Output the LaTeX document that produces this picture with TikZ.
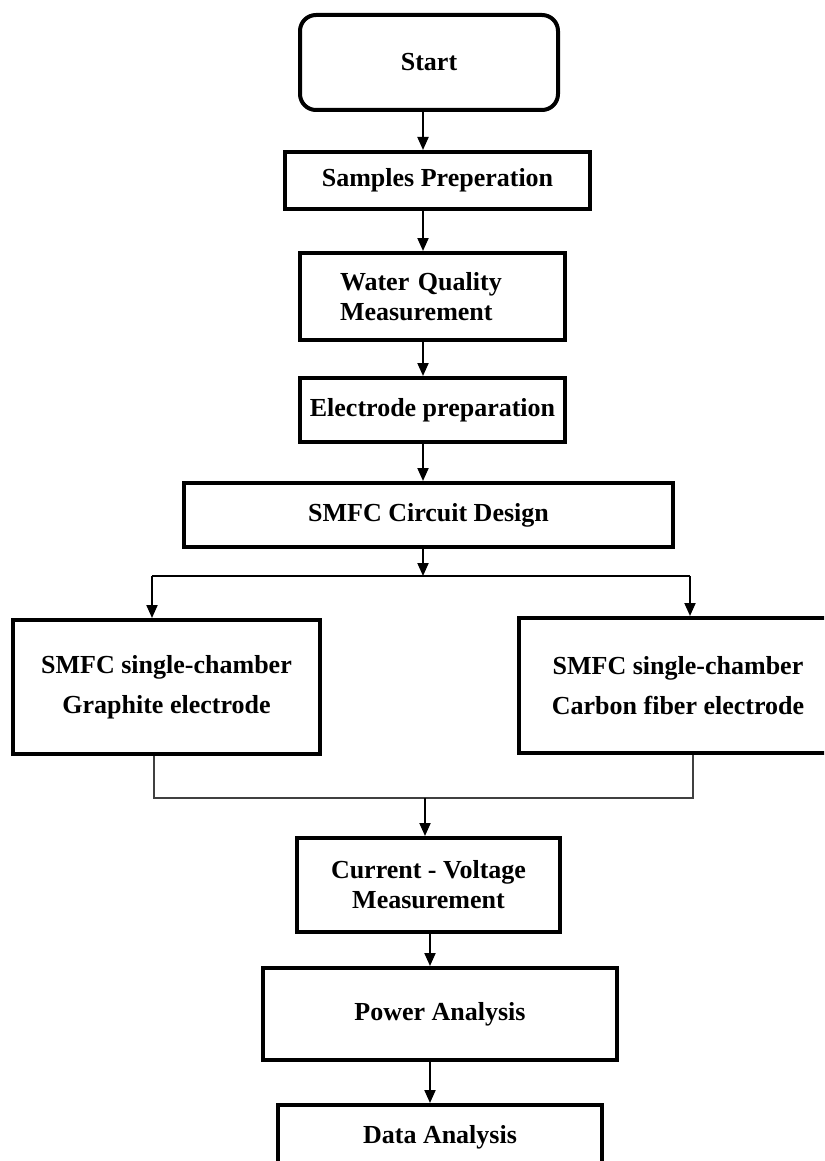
\documentclass[tikz,border=0pt]{standalone}
\usepackage{fontspec}
\setmainfont{Liberation Serif}
\usetikzlibrary{arrows.meta}

\begin{document}
\begin{tikzpicture}[x=1pt,y=-1pt,>={Triangle[length=13pt,width=11pt]},process/.style={draw,line width=4pt,inner sep=0pt,align=center,font=\bfseries\fontsize{26}{30}\selectfont},terminal/.style={process,rounded corners=16pt},flow/.style={->,line width=2pt},joint/.style={line width=1.6pt,draw=black!75}]
\useasboundingbox (0,0) rectangle (824,1161);
\clip (0,0) rectangle (824,1161);
\coordinate (spine) at (423,0);
\coordinate (spineb) at (430,0);
\node[terminal,minimum width=258pt,minimum height=95pt] (start) at (429,62.5) {Start};
\node[process,minimum width=305pt,minimum height=57pt] (samples) at (437.5,180.5) {Samples Preperation};
\node[process,minimum height=87pt,text width=185pt,align=left,inner xsep=40pt] (water) at (432.5,296.5) {Water Quality\\Measurement};
\node[process,minimum width=265pt,minimum height=64pt] (electrode) at (432.5,410) {Electrode preparation};
\node[process,minimum width=489pt,minimum height=64pt] (circuit) at (428.5,515) {SMFC Circuit Design};
\node[process,minimum width=307pt,minimum height=134pt,font=\bfseries\fontsize{26}{40}\selectfont] (graphite) at (166.5,687) {SMFC single-chamber\\Graphite electrode};
\node[process,minimum width=318pt,minimum height=135pt,font=\bfseries\fontsize{26}{40}\selectfont] (carbon) at (678,685.5) {SMFC single-chamber\\Carbon fiber electrode};
\node[process,minimum width=263pt,minimum height=94pt] (cv) at (428.5,885) {Current - Voltage\\Measurement};
\node[process,minimum width=354pt,minimum height=92pt] (power) at (440,1014) {Power Analysis};
\node[process,minimum width=324pt,minimum height=64pt] (data) at (440,1137) {Data Analysis};
% main line
\draw[flow] (start.south -| spine) -- (samples.north -| spine);
\draw[flow] (samples.south -| spine) -- (water.north -| spine);
\draw[flow] (water.south -| spine) -- (electrode.north -| spine);
\draw[flow] (electrode.south -| spine) -- (circuit.north -| spine);
% split into the two cells
\coordinate (split) at (423,576);
\coordinate (splitL) at (152,576);
\coordinate (splitR) at (690,576);
\draw[flow] (circuit.south -| spine) -- (split);
\draw[line width=2pt] (splitL) -- (splitR);
\draw[flow] (splitL) -- (graphite.north -| splitL);
\draw[flow] (splitR) -- (carbon.north -| splitR);
% join again
\coordinate (merge) at (425,798);
\coordinate (mergeL) at (154,798);
\coordinate (mergeR) at (693,798);
\draw[joint] (graphite.south -| mergeL) -- (mergeL) -- (mergeR) -- (carbon.south -| mergeR);
\draw[flow] (merge) -- (cv.north -| merge);
\draw[flow] (cv.south -| spineb) -- (power.north -| spineb);
\draw[flow] (power.south -| spineb) -- (data.north -| spineb);
\end{tikzpicture}
\end{document}
